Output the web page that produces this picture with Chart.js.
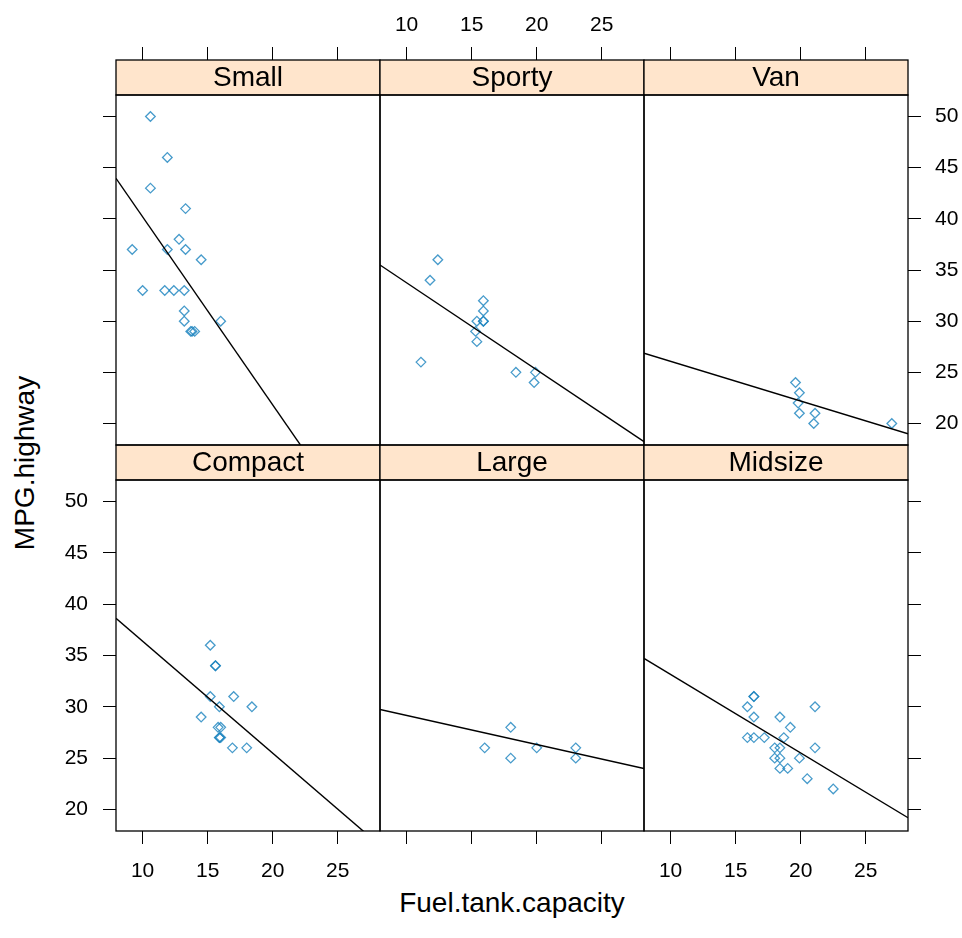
<!DOCTYPE html>
<html>
<head>
<meta charset="utf-8">
<title>MPG.highway vs Fuel.tank.capacity by Type</title>
<script src="https://cdn.jsdelivr.net/npm/chart.js@4/dist/chart.umd.min.js"></script>
<style>
  html, body { margin: 0; padding: 0; background: #ffffff; }
  #wrap { position: relative; width: 962px; height: 938px; overflow: hidden; background: #ffffff; }
  #wrap canvas { position: absolute; left: 0; top: 0; }
  .axis-title {
    position: absolute;
    font-family: "Liberation Sans", Arial, sans-serif;
    font-size: 28px;
    color: #000000;
    white-space: nowrap;
    line-height: 1;
  }
  #xlab { left: 512px; top: 903px; transform: translate(-50%, -50%); }
  #ylab { left: 25px; top: 463px; transform: translate(-50%, -50%) rotate(-90deg); }
</style>
</head>
<body>
<div id="wrap">
  <div class="axis-title" id="xlab">Fuel.tank.capacity</div>
  <div class="axis-title" id="ylab">MPG.highway</div>
</div>
<script>
// Panel levels (vehicle type), in factor order
const types = ['Compact', 'Large', 'Midsize', 'Small', 'Sporty', 'Van'];

// Fuel tank capacity (x) and highway MPG (y) per type
const compactFuel = [15.2, 15.6, 15.6, 15.2, 17.0, 15.9, 18.4, 14.5, 15.8, 16.0, 15.9, 15.9, 16.0, 16.9, 18.0];
const compactMpg  = [36, 34, 34, 31, 31, 30, 30, 29, 28, 28, 27, 27, 27, 26, 26];

const largeFuel = [18.0, 16.0, 20.0, 23.0, 18.0, 23.0];
const largeMpg  = [28, 26, 26, 26, 25, 25];

const midsizeFuel = [16.4, 16.4, 15.9, 21.1, 16.4, 18.4, 19.2, 15.9, 16.4, 17.2, 18.7, 18.0, 18.4, 21.1, 18.0, 18.4, 19.9, 18.4, 19.0, 20.5, 22.5];
const midsizeMpg  = [31, 31, 30, 30, 29, 29, 28, 27, 27, 27, 27, 26, 26, 26, 25, 25, 25, 24, 24, 23, 22];

const smallFuel = [10.6, 11.9, 10.6, 13.3, 12.8, 9.2, 11.9, 13.3, 14.5, 10.0, 11.7, 12.4, 13.2, 13.2, 13.2, 13.7, 14.0, 13.8, 16.0];
const smallMpg  = [50, 46, 43, 41, 38, 37, 37, 37, 36, 33, 33, 33, 33, 31, 30, 29, 29, 29, 30];

const sportyFuel = [12.4, 11.8, 15.9, 15.9, 15.4, 15.9, 15.3, 15.4, 11.1, 18.4, 19.9, 19.8, 15.9];
const sportyMpg  = [36, 34, 32, 31, 30, 30, 29, 28, 26, 25, 25, 24, 30];

const vanFuel = [19.6, 19.9, 19.8, 19.9, 21.1, 21.0, 27.0];
const vanMpg  = [24, 23, 22, 21, 21, 20, 20];

// Least-squares line of MPG.highway on Fuel.tank.capacity, per type
const fitIntercept = [47.29, 32.00, 40.81, 58.58, 42.26, 29.95];
const fitSlope     = [-1.0905, -0.2834, -0.7654, -1.838, -0.851, -0.388];

// Shared axis ranges and ticks
const xRange = [7.954, 28.246];
const yRange = [17.9, 52.1];
const xTicks = [10, 15, 20, 25];
const yTicks = [20, 25, 30, 35, 40, 45, 50];

const fuelByType = [compactFuel, largeFuel, midsizeFuel, smallFuel, sportyFuel, vanFuel];
const mpgByType  = [compactMpg, largeMpg, midsizeMpg, smallMpg, sportyMpg, vanMpg];

// Page geometry of the 3 x 2 panel grid
const PAGE_W = 962, PAGE_H = 938;
const COL_LEFT = [116, 380, 644];
const PANEL_W = 264;
const STRIP_H = 35;
const TOP_ROW = { stripTop: 60, bottom: 445 };
const BOTTOM_ROW = { stripTop: 445, bottom: 831 };

const FONT_FAMILY = '"Liberation Sans", Arial, sans-serif';
Chart.defaults.font.family = FONT_FAMILY;
Chart.defaults.color = '#000000';

// Strip (with level name) and panel frame
const panelFrame = {
  id: 'panelFrame',
  afterDraw(chart, args, opts) {
    const ctx = chart.ctx;
    const a = chart.chartArea;
    const s = chart.scales.strip;
    const w = a.right - a.left;
    ctx.save();
    ctx.fillStyle = '#ffe5cc';
    ctx.fillRect(a.left, s.top, w, s.bottom - s.top);
    ctx.strokeStyle = '#000000';
    ctx.lineWidth = 1.3;
    ctx.strokeRect(a.left, s.top, w, s.bottom - s.top);
    ctx.strokeRect(a.left, a.top, w, a.bottom - a.top);
    ctx.fillStyle = '#000000';
    ctx.font = '28px ' + FONT_FAMILY;
    ctx.textAlign = 'center';
    ctx.textBaseline = 'middle';
    ctx.fillText(opts.label, a.left + w / 2, (s.top + s.bottom) / 2 + 1);
    ctx.restore();
  }
};

function makePanel(i) {
  const col = i % 3;
  const isTop = i >= 3;              // Small, Sporty, Van on the upper row
  const rowGeom = isTop ? TOP_ROW : BOTTOM_ROW;

  const canvas = document.createElement('canvas');
  canvas.width = PAGE_W;
  canvas.height = PAGE_H;
  document.getElementById('wrap').appendChild(canvas);

  // Alternating axis labels, as in a lattice layout
  const showXLabels = isTop ? col === 1 : col !== 1;
  const showYAxis = col !== 1;
  const showYLabels = (col === 0 && !isTop) || (col === 2 && isTop);
  const yAxisWidth = col === 0 ? COL_LEFT[0] : (col === 2 ? PAGE_W - (COL_LEFT[2] + PANEL_W) : 0);

  const padding = {
    left: col === 0 ? 0 : COL_LEFT[col],
    right: col === 2 ? 0 : PAGE_W - (COL_LEFT[col] + PANEL_W),
    top: isTop ? 0 : rowGeom.stripTop,
    bottom: isTop ? PAGE_H - rowGeom.bottom : 0
  };

  const fuel = fuelByType[i];
  const mpg = mpgByType[i];
  const points = fuel.map((x, k) => ({ x: x, y: mpg[k] }));
  const fitLine = xRange.map(x => ({ x: x, y: fitIntercept[i] + fitSlope[i] * x }));

  const tickFont = { size: 21, family: FONT_FAMILY };

  return new Chart(canvas, {
    data: {
      datasets: [
        {
          type: 'line',
          data: fitLine,
          borderColor: '#000000',
          borderWidth: 1.4,
          pointRadius: 0,
          fill: false,
          tension: 0,
          xAxisID: 'x',
          yAxisID: 'y'
        },
        {
          type: 'scatter',
          data: points,
          pointStyle: 'rectRot',
          pointRadius: 4.8,
          pointBorderWidth: 1.3,
          pointBorderColor: 'rgba(25, 130, 190, 0.8)',
          pointBackgroundColor: 'rgba(0,0,0,0)',
          xAxisID: 'x',
          yAxisID: 'y'
        }
      ]
    },
    options: {
      responsive: false,
      devicePixelRatio: 1,
      animation: false,
      events: [],
      layout: { padding: padding },
      plugins: {
        legend: { display: false },
        tooltip: { enabled: false },
        panelFrame: { label: types[i] }
      },
      scales: {
        x: {
          type: 'linear',
          position: isTop ? 'top' : 'bottom',
          weight: 1,
          min: xRange[0],
          max: xRange[1],
          afterBuildTicks: s => { s.ticks = xTicks.map(v => ({ value: v })); },
          afterFit: s => { s.height = isTop ? TOP_ROW.stripTop : PAGE_H - BOTTOM_ROW.bottom; },
          grid: { display: true, drawOnChartArea: false, drawTicks: true, tickLength: 13, tickColor: '#000000', tickWidth: 1 },
          border: { display: false },
          ticks: { display: showXLabels, padding: isTop ? 9 : 15, font: tickFont, color: '#000000', maxRotation: 0, autoSkip: false }
        },
        strip: {
          type: 'linear',
          position: 'top',
          weight: 0,
          display: true,
          afterFit: s => { s.height = STRIP_H; },
          grid: { display: false },
          border: { display: false },
          ticks: { display: false }
        },
        y: {
          type: 'linear',
          position: col === 0 ? 'left' : 'right',
          display: showYAxis,
          min: yRange[0],
          max: yRange[1],
          afterBuildTicks: s => { s.ticks = yTicks.map(v => ({ value: v })); },
          afterFit: s => { s.width = yAxisWidth; },
          grid: { display: true, drawOnChartArea: false, drawTicks: true, tickLength: 13, tickColor: '#000000', tickWidth: 1 },
          border: { display: false },
          ticks: { display: showYLabels, padding: col === 0 ? 15 : 14, font: tickFont, color: '#000000', autoSkip: false }
        }
      }
    },
    plugins: [panelFrame]
  });
}

for (let i = 0; i < types.length; i++) makePanel(i);
</script>
</body>
</html>
